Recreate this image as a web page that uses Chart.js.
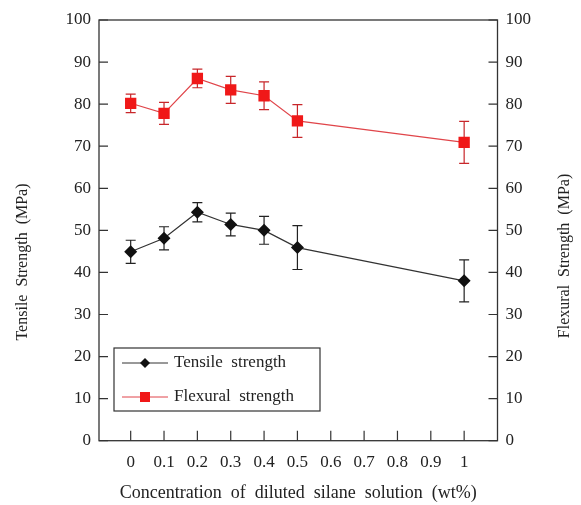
<!DOCTYPE html>
<html>
<head>
<meta charset="utf-8">
<script src="https://cdn.jsdelivr.net/npm/chart.js@4.4.0/dist/chart.umd.min.js"></script>
<style>
  body { margin: 0; background: #fff; }
</style>
</head>
<body>
<canvas id="myChart" width="581" height="505"></canvas>
<script>
// values
const concentrations = [0, 0.1, 0.2, 0.3, 0.4, 0.5, 1];
const tensileStrength = [44.9, 48.1, 54.3, 51.4, 50.0, 45.9, 38.0];
const tensileError = [2.75, 2.75, 2.3, 2.7, 3.3, 5.2, 5.0];
const flexuralStrength = [80.2, 77.8, 86.1, 83.4, 82.0, 76.0, 70.9];
const flexuralError = [2.2, 2.6, 2.2, 3.2, 3.3, 3.9, 5.0];
const xTickValues = [0, 0.1, 0.2, 0.3, 0.4, 0.5, 0.6, 0.7, 0.8, 0.9, 1];

const FONT = "'Liberation Serif', 'Times New Roman', serif";
const TEXT = "#222";

const toPoints = (xs, ys) => xs.map((x, i) => ({ x: x, y: ys[i] }));

// box around plot + ticks pointing inward
const frame = {
  id: "frame",
  beforeDatasetsDraw(chart) {
    const { ctx, chartArea: a, scales } = chart;
    ctx.save();
    ctx.strokeStyle = "#333";
    ctx.lineWidth = 1.3;
    ctx.strokeRect(a.left, a.top, a.right - a.left, a.bottom - a.top);
    ctx.lineWidth = 1.2;
    ctx.beginPath();
    scales.y.ticks.forEach((t) => {
      const y = scales.y.getPixelForValue(t.value);
      ctx.moveTo(a.left, y); ctx.lineTo(a.left + 9, y);
    });
    scales.y2.ticks.forEach((t) => {
      const y = scales.y2.getPixelForValue(t.value);
      ctx.moveTo(a.right, y); ctx.lineTo(a.right - 9, y);
    });
    scales.x.ticks.forEach((t) => {
      const x = scales.x.getPixelForValue(t.value);
      ctx.moveTo(x, a.bottom); ctx.lineTo(x, a.bottom - 10);
    });
    ctx.stroke();

    // rotated axis titles
    ctx.fillStyle = TEXT;
    ctx.font = "16px " + FONT;
    ctx.textAlign = "center";
    ctx.textBaseline = "middle";
    ctx.translate(23, 262);
    ctx.rotate(-Math.PI / 2);
    ctx.fillText("Tensile  Strength  (MPa)", 0, 0);
    ctx.setTransform(1, 0, 0, 1, 0, 0);
    ctx.translate(565, 256);
    ctx.rotate(-Math.PI / 2);
    ctx.fillText("Flexural  Strength  (MPa)", 0, 0);
    ctx.restore();
  },
};

const errorBars = {
  id: "errorBars",
  beforeDatasetsDraw(chart) {
    const ctx = chart.ctx;
    chart.data.datasets.forEach((ds, i) => {
      const meta = chart.getDatasetMeta(i);
      const yScale = chart.scales[ds.yAxisID];
      ctx.save();
      ctx.strokeStyle = ds.errorColor;
      ctx.lineWidth = 1.2;
      meta.data.forEach((pt, j) => {
        const v = ds.data[j].y;
        const e = ds.errors[j];
        const top = yScale.getPixelForValue(v + e);
        const bot = yScale.getPixelForValue(v - e);
        ctx.beginPath();
        ctx.moveTo(pt.x, top); ctx.lineTo(pt.x, bot);
        ctx.moveTo(pt.x - 5, top); ctx.lineTo(pt.x + 5, top);
        ctx.moveTo(pt.x - 5, bot); ctx.lineTo(pt.x + 5, bot);
        ctx.stroke();
      });
      ctx.restore();
    });
  },
};

const boxLegend = {
  id: "boxLegend",
  afterDraw(chart) {
    const ctx = chart.ctx;
    const bx = 114, by = 348, bw = 206, bh = 63;
    ctx.save();
    ctx.fillStyle = "#fff";
    ctx.fillRect(bx, by, bw, bh);
    ctx.strokeStyle = "#333";
    ctx.lineWidth = 1.2;
    ctx.strokeRect(bx, by, bw, bh);
    chart.data.datasets.forEach((ds, i) => {
      const y = by + 15 + i * 34;
      ctx.strokeStyle = ds.borderColor;
      ctx.lineWidth = 1;
      ctx.beginPath();
      ctx.moveTo(bx + 8, y); ctx.lineTo(bx + 54, y);
      ctx.stroke();
      ctx.fillStyle = ds.pointBackgroundColor;
      const cx = bx + 31;
      ctx.beginPath();
      if (ds.pointStyle === "rectRot") {
        ctx.moveTo(cx, y - 5); ctx.lineTo(cx + 5, y); ctx.lineTo(cx, y + 5); ctx.lineTo(cx - 5, y);
      } else {
        ctx.rect(cx - 5, y - 5, 10, 10);
      }
      ctx.closePath();
      ctx.fill();
      ctx.fillStyle = TEXT;
      ctx.font = "17px " + FONT;
      ctx.textAlign = "left";
      ctx.textBaseline = "middle";
      ctx.fillText(ds.label, bx + 60, y);
    });
    ctx.restore();
  },
};

const ctx = document.getElementById("myChart").getContext("2d");

new Chart(ctx, {
  type: "line",
  data: {
    datasets: [
      {
        label: "Tensile  strength",
        data: toPoints(concentrations, tensileStrength),
        errors: tensileError,
        errorColor: "#222",
        yAxisID: "y",
        borderColor: "#333",
        borderWidth: 1.2,
        pointStyle: "rectRot",
        pointRadius: 6.5,
        pointBackgroundColor: "#111",
        pointBorderColor: "#111",
        pointBorderWidth: 0,
      },
      {
        label: "Flexural  strength",
        data: toPoints(concentrations, flexuralStrength),
        errors: flexuralError,
        errorColor: "#c8262a",
        yAxisID: "y2",
        borderColor: "#e0454a",
        borderWidth: 1.2,
        pointStyle: "rect",
        pointRadius: 8,
        pointBackgroundColor: "#f01818",
        pointBorderColor: "#f01818",
        pointBorderWidth: 0,
      },
    ],
  },
  options: {
    responsive: false,
    animation: false,
    layout: { padding: { top: 20, left: 0, right: 0, bottom: 0 } },
    plugins: {
      legend: { display: false },
      tooltip: { enabled: false },
    },
    scales: {
      x: {
        type: "linear",
        min: -0.095,
        max: 1.1,
        afterBuildTicks: (s) => { s.ticks = xTickValues.map((v) => ({ value: v })); },
        afterFit: (s) => { s.height = 64.3; },
        grid: { display: false },
        border: { display: false },
        ticks: {
          color: TEXT,
          font: { family: FONT, size: 17 },
          padding: 4,
          maxRotation: 0,
          autoSkip: false,
          callback: (v) => String(Math.round(v * 10) / 10),
        },
        title: {
          display: true,
          text: "Concentration  of  diluted  silane  solution  (wt%)",
          color: TEXT,
          font: { family: FONT, size: 18 },
          padding: { top: 2, bottom: 1 },
        },
      },
      y: {
        position: "left",
        min: 0,
        max: 100,
        afterFit: (s) => { s.width = 99; },
        grid: { display: false },
        border: { display: false },
        ticks: { stepSize: 10, color: TEXT, font: { family: FONT, size: 17 }, padding: 0 },
      },
      y2: {
        position: "right",
        min: 0,
        max: 100,
        afterFit: (s) => { s.width = 83.5; },
        grid: { display: false },
        border: { display: false },
        ticks: { stepSize: 10, color: TEXT, font: { family: FONT, size: 17 }, padding: 0 },
      },
    },
  },
  plugins: [frame, errorBars, boxLegend],
});
</script>
</body>
</html>
